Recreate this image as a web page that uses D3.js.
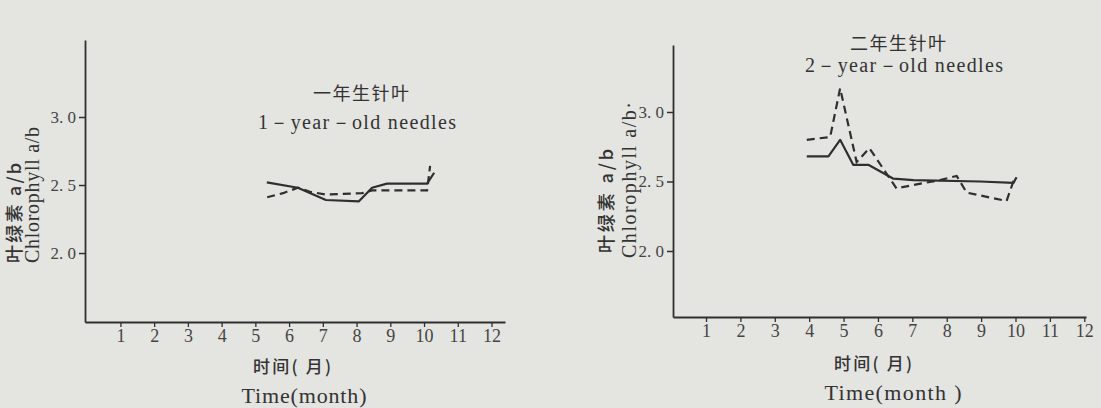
<!DOCTYPE html>
<html><head><meta charset="utf-8">
<script src="https://cdn.jsdelivr.net/npm/d3@7/dist/d3.min.js"></script>
<style>
html,body{margin:0;padding:0;background:#e4e4e1;}
svg{display:block;}
</style>
</head><body>
<svg id="c" width="1101" height="408"></svg>
<script>
// ---- data ----
const months = [1,2,3,4,5,6,7,8,9,10,11,12];
const monthLabels = ["1","2","3","4","5","6","7","8","9","10","11","12"];
const yTicks = [2.0, 2.5, 3.0];
const yTickLabels = ["2. 0", "2. 5", "3. 0"];

// 1-year-old needles
const oneYearSolidMonth = [5.34, 6.26, 7.09, 8.07, 8.46, 8.90, 10.09, 10.30];
const oneYearSolidValue = [2.52, 2.48, 2.39, 2.38, 2.48, 2.51, 2.51, 2.59];
const oneYearDashMonth  = [5.35, 5.82, 6.26, 6.62, 7.09, 8.16, 8.46, 10.09, 10.18];
const oneYearDashValue  = [2.41, 2.44, 2.48, 2.45, 2.43, 2.44, 2.46, 2.46, 2.64];

// 2-year-old needles
const twoYearSolidMonth = [3.93, 4.56, 4.90, 5.28, 5.72, 6.45, 7.03, 8.97, 9.94, 10.03];
const twoYearSolidValue = [2.68, 2.68, 2.80, 2.62, 2.62, 2.52, 2.51, 2.50, 2.49, 2.53];
const twoYearDashMonth  = [3.93, 4.61, 4.90, 5.38, 5.75, 6.54, 6.93, 7.80, 8.29, 8.58, 9.74, 9.98];
const twoYearDashValue  = [2.80, 2.82, 3.17, 2.64, 2.74, 2.45, 2.47, 2.51, 2.54, 2.42, 2.36, 2.53];

const ink = "#2f2f2f";
const serif = "'Liberation Serif','DejaVu Serif',serif";
const cjk = "'Noto Sans CJK SC','Noto Sans',sans-serif";

const svg = d3.select("#c");

function drawPanel(p) {
  const g = svg.append("g");
  const x = d3.scaleLinear().domain(p.xDomain).range(p.xRange);
  const y = d3.scaleLinear().domain(p.yDomain).range(p.yRange);

  const xAxis = d3.axisBottom(x).tickValues(months)
    .tickFormat((d,i) => monthLabels[i]).tickSize(5).tickSizeOuter(0).tickPadding(2);
  const gx = g.append("g").attr("transform", `translate(0,${p.yRange[0]})`).call(xAxis);
  gx.select(".domain").attr("stroke", ink).attr("stroke-width", 2);
  gx.selectAll(".tick line").attr("stroke", ink).attr("stroke-width", 1.3);
  gx.selectAll(".tick text").attr("fill", "#444").attr("font-family", serif)
    .attr("font-size", 18);

  const yAxis = d3.axisLeft(y).tickValues(yTicks)
    .tickFormat((d,i) => yTickLabels[i]).tickSize(6).tickSizeOuter(0).tickPadding(3);
  const gy = g.append("g").attr("transform", `translate(${p.xRange[0]},0)`).call(yAxis);
  gy.select(".domain").attr("stroke", ink).attr("stroke-width", 1.8);
  gy.selectAll(".tick line").attr("stroke", ink).attr("stroke-width", 1.5);
  gy.selectAll(".tick text").attr("fill", "#444").attr("font-family", serif)
    .attr("font-size", 17);

  const line = d3.line().x(d => x(d[0])).y(d => y(d[1]));
  const solid = d3.zip(p.solidM, p.solidV);
  const dash = d3.zip(p.dashM, p.dashV);
  g.append("path").datum(solid).attr("d", line).attr("fill", "none")
    .attr("stroke", ink).attr("stroke-width", 2.2).attr("stroke-linejoin", "round");
  g.append("path").datum(dash).attr("d", line).attr("fill", "none")
    .attr("stroke", ink).attr("stroke-width", 2.2).attr("stroke-dasharray", "8,5");

  // titles
  g.append("text").attr("x", p.t1[0]).attr("y", p.t1[1]).attr("text-anchor", "middle")
    .attr("font-family", cjk).attr("font-size", 18).attr("fill", "#333")
    .attr("textLength", 96).text(p.titleCn);
  g.append("text").attr("x", p.t2[0]).attr("y", p.t2[1]).attr("text-anchor", "middle")
    .attr("font-family", serif).attr("font-size", 20).attr("fill", "#333")
    .attr("textLength", 198).text(p.titleEn);

  // y label
  g.append("text").attr("transform", `translate(${p.yl1[0]},${p.yl1[1]}) rotate(-90)`)
    .attr("font-family", cjk).attr("font-size", 18).attr("font-weight", 500).attr("fill", "#333")
    .attr("textLength", p.yl1[2]).text("叶绿素 a/b");
  g.append("text").attr("transform", `translate(${p.yl2[0]},${p.yl2[1]}) rotate(-90)`)
    .attr("font-family", serif).attr("font-size", 20).attr("fill", "#333")
    .attr("textLength", p.yl2[2]).text(p.ylabel2);

  // x label
  g.append("text").attr("x", p.xl1[0]).attr("y", p.xl1[1]).attr("text-anchor", "middle")
    .attr("font-family", cjk).attr("font-size", 17).attr("font-weight", 500).attr("fill", "#333")
    .attr("textLength", 78).text("时间( 月)");
  g.append("text").attr("x", p.xl2[0]).attr("y", p.xl2[1]).attr("text-anchor", "middle")
    .attr("font-family", serif).attr("font-size", 22).attr("fill", "#333")
    .attr("textLength", p.xl2[2]).text(p.xlabel2);
}

drawPanel({
  xDomain: [-0.05, 12.4], xRange: [85, 505],
  yDomain: [1.493, 3.566], yRange: [322, 40],
  solidM: oneYearSolidMonth, solidV: oneYearSolidValue,
  dashM: oneYearDashMonth, dashV: oneYearDashValue,
  titleCn: "一年生针叶", titleEn: "1－year－old needles",
  t1: [361, 100], t2: [357, 129],
  yl1: [21, 263, 100], yl2: [39, 263, 136], ylabel2: "Chlorophyll a/b",
  xl1: [292, 373], xl2: [304, 403, 125], xlabel2: "Time(month)"
});

drawPanel({
  xDomain: [0.04, 12.05], xRange: [673, 1086],
  yDomain: [1.525, 3.482], yRange: [317, 45],
  solidM: twoYearSolidMonth, solidV: twoYearSolidValue,
  dashM: twoYearDashMonth, dashV: twoYearDashValue,
  titleCn: "二年生针叶", titleEn: "2－year－old needles",
  t1: [898, 50], t2: [904, 72],
  yl1: [613, 253, 104], yl2: [636, 258, 156], ylabel2: "Chlorophyll a/b·",
  xl1: [873, 370], xl2: [893, 400, 137], xlabel2: "Time(month )"
});
</script>
</body></html>
